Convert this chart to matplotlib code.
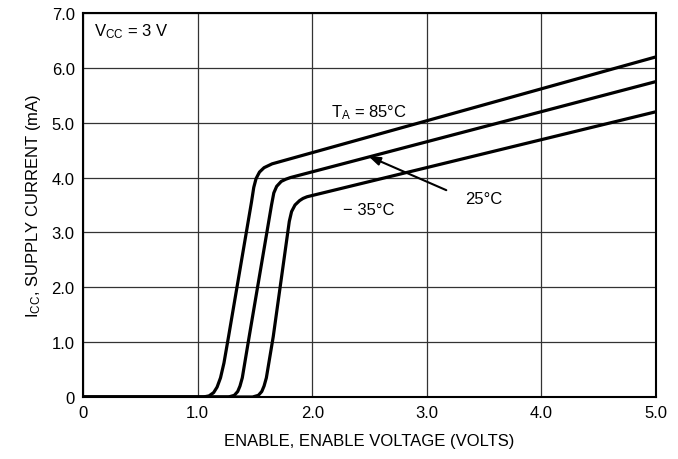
import matplotlib
matplotlib.use("Agg")
import matplotlib.pyplot as plt

plt.rcParams['font.family'] = ['Liberation Sans Narrow', 'Liberation Sans', 'DejaVu Sans']
plt.rcParams['mathtext.fontset'] = 'custom'
plt.rcParams['mathtext.rm'] = 'Liberation Sans'
plt.rcParams['mathtext.default'] = 'regular'

# supply current vs enable voltage, one curve per ambient temperature
v_85 = [0, 1.05, 1.10, 1.14, 1.17, 1.20, 1.23, 1.27, 1.47, 1.49, 1.51, 1.54, 1.58, 1.65, 5.0]
i_85 = [0, 0, 0.02, 0.08, 0.18, 0.35, 0.62, 1.1, 3.55, 3.82, 3.98, 4.10, 4.18, 4.25, 6.2]

v_25 = [0, 1.27, 1.32, 1.35, 1.37, 1.39, 1.41, 1.45, 1.645, 1.665, 1.69, 1.73, 1.77, 1.81, 5.0]
i_25 = [0, 0, 0.03, 0.10, 0.20, 0.35, 0.60, 1.1, 3.5, 3.72, 3.84, 3.93, 3.97, 4.00, 5.75]

v_m35 = [0, 1.48, 1.53, 1.56, 1.58, 1.60, 1.62, 1.66, 1.80, 1.82, 1.85, 1.89, 1.92, 1.955, 5.0]
i_m35 = [0, 0, 0.03, 0.10, 0.20, 0.35, 0.60, 1.1, 3.2, 3.38, 3.50, 3.58, 3.62, 3.65, 5.2]

x_ticks = [0, 1, 2, 3, 4, 5]
x_labels = ['0', '1.0', '2.0', '3.0', '4.0', '5.0']
y_ticks = [0, 1, 2, 3, 4, 5, 6, 7]
y_labels = ['0', '1.0', '2.0', '3.0', '4.0', '5.0', '6.0', '7.0']

fig = plt.figure(figsize=(6.78, 4.6), dpi=100)
ax = fig.add_axes([0.1224, 0.1348, 0.8452, 0.8348])

for v, i in [(v_85, i_85), (v_25, i_25), (v_m35, i_m35)]:
    ax.plot(v, i, color='black', lw=2.3, solid_joinstyle='round', zorder=3)

ax.set_xlim(0, 5)
ax.set_ylim(0, 7)
ax.set_xticks(x_ticks)
ax.set_xticklabels(x_labels)
ax.set_yticks(y_ticks)
ax.set_yticklabels(y_labels)
ax.tick_params(length=0, labelsize=12, pad=6)
ax.grid(True, color='#333333', lw=0.9)
for s in ax.spines.values():
    s.set_linewidth(1.5)

ax.set_xlabel('ENABLE, ENABLE VOLTAGE (VOLTS)', fontsize=12, labelpad=9)
ax.set_ylabel('I$_{CC}$, SUPPLY CURRENT (mA)', fontsize=12, labelpad=6)

ax.text(0.10, 6.68, 'V$_{CC}$ = 3 V', fontsize=12, va='center', ha='left')
ax.text(2.16, 5.2, 'T$_{A}$ = 85°C', fontsize=12, va='center', ha='left')
ax.text(3.33, 3.62, '25°C', fontsize=12, va='center', ha='left')
ax.text(2.27, 3.42, '− 35°C', fontsize=12, va='center', ha='left')
ax.annotate('', xy=(2.49, 4.39), xytext=(3.17, 3.77),
            arrowprops=dict(arrowstyle='-|>,head_length=0.7,head_width=0.25',
                            color='black', lw=1.5, shrinkA=0, shrinkB=0))

fig.savefig('out.png', dpi=100)
